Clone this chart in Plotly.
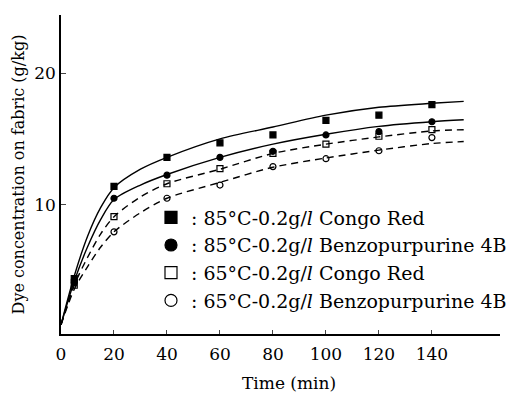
import plotly.graph_objects as go

# measured points
t_pts = [5, 20, 40, 60, 80, 100, 120, 140]
cr85_pts = [4.4, 11.4, 13.6, 14.7, 15.3, 16.4, 16.8, 17.6]
bp85_pts = [4.1, 10.5, 12.25, 13.6, 14.06, 15.3, 15.55, 16.3]
cr65_pts = [3.9, 9.1, 11.6, 12.75, 13.9, 14.6, 15.2, 15.7]
bp65_pts = [4.3, 7.95, 10.5, 11.5, 12.9, 13.5, 14.1, 15.1]

# fitted curves
t_curve = [0, 5, 10, 15, 20, 30, 40, 60, 80, 100, 120, 140, 152]
cr85_curve = [0.9, 4.6, 7.6, 9.8, 11.3, 12.7, 13.6, 15.0, 15.9, 16.8, 17.4, 17.7, 17.85]
bp85_curve = [0.9, 4.2, 6.8, 8.9, 10.4, 11.5, 12.3, 13.6, 14.6, 15.35, 15.95, 16.3, 16.45]
cr65_curve = [0.9, 3.9, 6.0, 7.8, 9.1, 10.6, 11.6, 12.7, 13.9, 14.6, 15.15, 15.6, 15.7]
bp65_curve = [0.9, 3.6, 5.3, 6.8, 7.95, 9.4, 10.5, 11.7, 12.85, 13.55, 14.15, 14.65, 14.8]

x_ticks = [0, 20, 40, 60, 80, 100, 120, 140]
y_ticks = [10, 20]

labels = [
    ": 85°C-0.2g/<i>l</i> Congo Red",
    ": 85°C-0.2g/<i>l</i> Benzopurpurine 4B",
    ": 65°C-0.2g/<i>l</i> Congo Red",
    ": 65°C-0.2g/<i>l</i> Benzopurpurine 4B",
]

FONT = "DejaVu Serif"
fig = go.Figure()

curves = [(cr85_curve, "solid"), (bp85_curve, "solid"), (cr65_curve, "7px,5px"), (bp65_curve, "7px,5px")]
for yc, dash in curves:
    fig.add_trace(go.Scatter(x=t_curve, y=yc, mode="lines", showlegend=False,
                             line=dict(color="black", width=1.4, dash=dash, shape="spline", smoothing=0.8),
                             hoverinfo="skip"))

marks = [
    (cr85_pts, "square", "black"),
    (bp85_pts, "circle", "black"),
    (cr65_pts, "square-open", "black"),
    (bp65_pts, "circle-open", "black"),
]
for yp, sym, col in marks:
    fig.add_trace(go.Scatter(x=t_pts, y=yp, mode="markers", showlegend=False,
                             marker=dict(symbol=sym, size=6, color=col, line=dict(color="black", width=1.2))))

for i, ((yp, sym, col), lab) in enumerate(zip(marks, labels)):
    fig.add_trace(go.Scatter(x=[None], y=[None], mode="markers", name=lab, legendgroup=f"g{i}",
                             marker=dict(symbol=sym, size=12, color=col, line=dict(color="black", width=1.2))))

fig.update_layout(
    width=525, height=398,
    margin=dict(l=61, r=25, t=15, b=64),
    paper_bgcolor="white", plot_bgcolor="white",
    font=dict(family=FONT, color="black", size=16),
    legend=dict(x=0.205, y=0.425, xanchor="left", yanchor="top", bgcolor="rgba(0,0,0,0)",
                font=dict(family=FONT, size=19), tracegroupgap=0, itemwidth=30),
    xaxis=dict(range=[0, 165.7], tickvals=x_ticks, ticks="inside", ticklen=4, tickwidth=1,
               showline=True, linecolor="black", linewidth=1.5, showgrid=False, zeroline=False,
               tickfont=dict(family=FONT, size=17), ticklabelstandoff=4),
    yaxis=dict(range=[0.2, 24.4], tickvals=y_ticks, ticks="inside", ticklen=5, tickwidth=1,
               showline=True, linecolor="black", linewidth=1.5, showgrid=False, zeroline=False,
               tickfont=dict(family=FONT, size=17),
               title=dict(text="Dye concentration on fabric (g/kg)", font=dict(family=FONT, size=16), standoff=6)),
    annotations=[dict(text="Time (min)", xref="paper", yref="paper", x=0.52, y=-0.115,
                      xanchor="center", yanchor="top", showarrow=False,
                      font=dict(family=FONT, size=17))],
)

fig.write_html("out.html")
